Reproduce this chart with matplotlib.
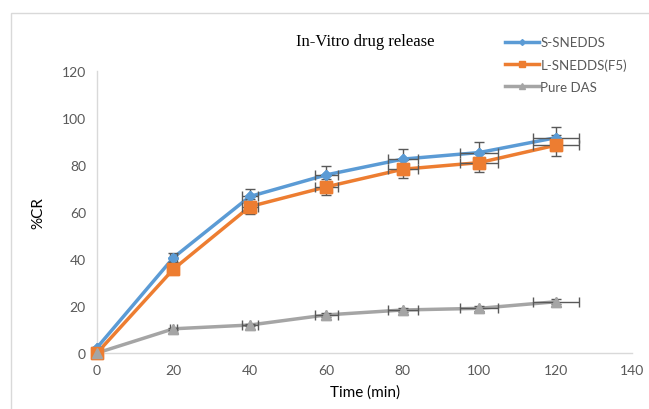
import numpy as np
import matplotlib
matplotlib.use('Agg')
import matplotlib.pyplot as plt
from matplotlib.patches import Rectangle

# data ------------------------------------------------------------------------
time_min = [0, 20, 40, 60, 80, 100, 120]
s_snedds = [2.3, 40.6, 66.6, 75.8, 82.5, 85.3, 91.6]
l_snedds = [0.0, 35.7, 62.3, 70.7, 78.2, 81.0, 88.4]
pure_das = [0.0, 10.3, 11.9, 16.2, 18.3, 19.0, 21.8]

s_err = [0.1, 2.0, 3.3, 3.8, 4.1, 4.3, 4.6]
l_err = [0.0, 1.8, 3.1, 3.5, 3.9, 4.1, 4.4]
p_err = [0.0, 0.5, 0.6, 0.8, 0.9, 1.0, 1.1]
t_err = [0, 1, 2, 3, 4, 5, 6]

names = ['S-SNEDDS', 'L-SNEDDS(F5)', 'Pure DAS']
colors = ['#5B9BD5', '#ED7D31', '#A5A5A5']
markers = ['D', 's', '^']
msizes = [5, 8, 7]

plt.rcParams['font.family'] = ['Lato', 'DejaVu Sans']

fig = plt.figure(figsize=(6.49, 4.10), dpi=100)
ax = fig.add_axes([0.1495, 0.1366, 0.8245, 0.6878])

for vals, err, name, c, m, ms in zip([s_snedds, l_snedds, pure_das],
                                      [s_err, l_err, p_err],
                                      names, colors, markers, msizes):
    ax.plot(time_min, vals, color=c, lw=2.5, marker=m, ms=ms, label=name, zorder=2)
    ax.errorbar(time_min, vals, yerr=err, xerr=t_err, fmt='none',
                ecolor='#595959', elinewidth=1, capsize=3.5, capthick=1, zorder=3)
    ax.plot(time_min, vals, ls='none', marker=m, ms=ms, color=c, zorder=4)

ax.set_xlim(0, 140)
ax.set_ylim(0, 120)
ax.set_xticks(np.arange(0, 141, 20))
ax.set_yticks(np.arange(0, 121, 20))
ax.tick_params(length=0, colors='#595959', labelsize=10, pad=8)
for sp in ['top', 'right']:
    ax.spines[sp].set_visible(False)
for sp in ['left', 'bottom']:
    ax.spines[sp].set_color('#D9D9D9')
    ax.spines[sp].set_linewidth(1)
for art in ax.get_children():
    art.set_clip_on(False)

ax.set_xlabel('Time (min)', fontsize=11, color='black', labelpad=6)
ax.set_ylabel('%CR', fontsize=11, color='black', labelpad=12)

fig.text(0.5625, 0.898, 'In-Vitro drug release', ha='center', va='center',
         fontsize=12, family='Liberation Serif')

leg = ax.legend(loc='upper left', bbox_to_anchor=(0.74, 1.165), frameon=False,
                fontsize=9.5, handlelength=2.6, labelspacing=0.75, handletextpad=0.1,
                markerscale=0.6)
for t in leg.get_texts():
    t.set_color('#595959')

fig.patches.append(Rectangle((11 / 649, -0.05), 1.0, 1 - 14 / 410 + 0.05,
                             transform=fig.transFigure, fill=False,
                             edgecolor='#D9D9D9', lw=1))

plt.savefig('out.png', dpi=100)
